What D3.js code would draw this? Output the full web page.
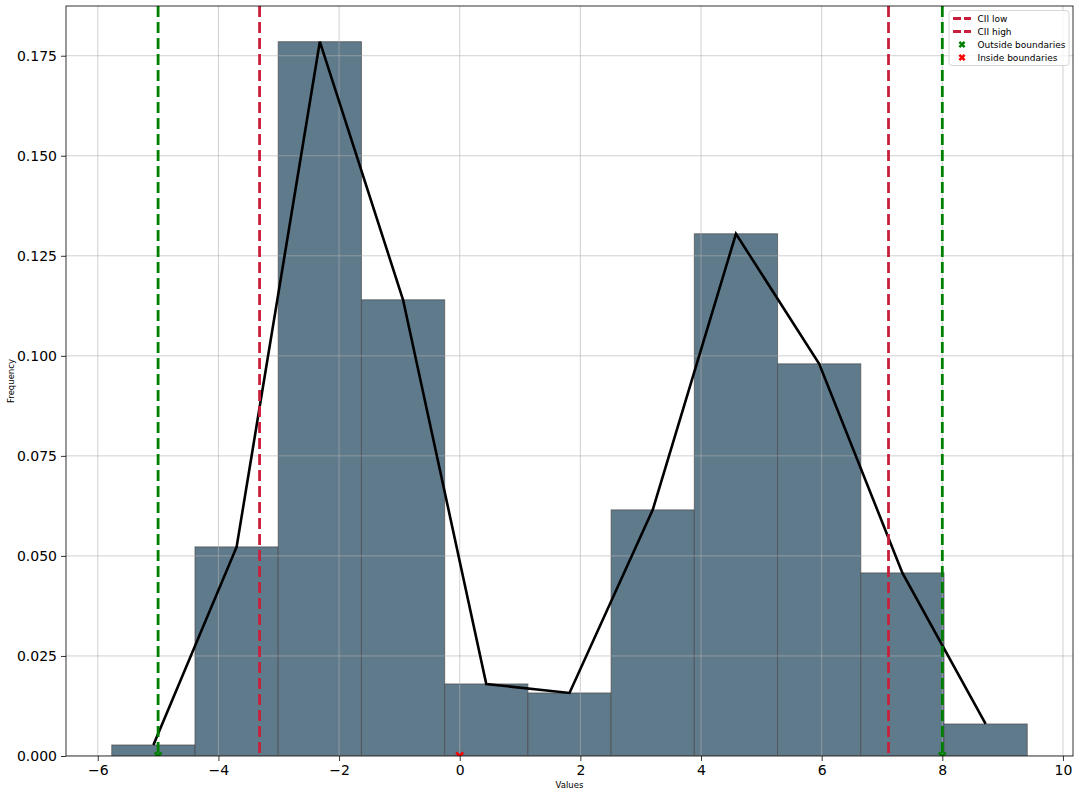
<!DOCTYPE html>
<html>
<head>
<meta charset="utf-8">
<script src="https://cdn.jsdelivr.net/npm/d3@7"></script>
<style>
  body { margin: 0; background: #fff; }
  svg { font-family: "DejaVu Sans", sans-serif; }
</style>
</head>
<body>
<div id="chart"></div>
<script>
// histogram data (density per bin)
const binStart = -5.768;
const binWidth = 1.3796;
const binHeights = [0.00275, 0.05225, 0.1785, 0.114, 0.018, 0.01575, 0.0615, 0.1305, 0.098, 0.04575, 0.008];

// vertical reference lines
const ciiLow = -3.318;
const ciiHigh = 7.108;
const outsidePoints = [-5, 8];
const insidePoints = [0];

const xTicks = [-6, -4, -2, 0, 2, 4, 6, 8, 10];
const yTicks = [0, 0.025, 0.05, 0.075, 0.1, 0.125, 0.15, 0.175];

const W = 1080, H = 796;
const mLeft = 66, mRight = 1073, mTop = 6, mBottom = 756;

// build bins from edges
const bins = binHeights.map((h, i) => ({
    x0: binStart + i * binWidth,
    x1: binStart + (i + 1) * binWidth,
    h: h
}));

const xmin = bins[0].x0, xmax = bins[bins.length - 1].x1;
const pad = (xmax - xmin) * 0.05;
const x = d3.scaleLinear([xmin - pad, xmax + pad], [mLeft, mRight]);
const y = d3.scaleLinear([0, d3.max(binHeights) * 1.05], [mBottom, mTop]);

const svg = d3.select("#chart").append("svg")
    .attr("width", W)
    .attr("height", H);

svg.append("clipPath").attr("id", "clip")
    .append("rect")
    .attr("x", mLeft).attr("y", mTop)
    .attr("width", mRight - mLeft).attr("height", mBottom - mTop);

const plot = svg.append("g").attr("clip-path", "url(#clip)");

// bars
plot.selectAll("rect.bar")
    .data(bins)
    .enter()
    .append("rect")
    .attr("class", "bar")
    .attr("x", d => x(d.x0))
    .attr("y", d => y(d.h))
    .attr("width", d => x(d.x1) - x(d.x0))
    .attr("height", d => y(0) - y(d.h))
    .style("fill", "#5f7a8b")
    .style("stroke", "#4a4a4a")
    .style("stroke-opacity", 0.7)
    .style("stroke-width", 1);

// grid lines on top of bars
plot.selectAll("line.vgrid")
    .data(xTicks)
    .enter()
    .append("line")
    .attr("x1", d => x(d)).attr("x2", d => x(d))
    .attr("y1", mTop).attr("y2", mBottom)
    .style("stroke", "#b0b0b0")
    .style("stroke-opacity", 0.75)
    .style("stroke-width", 0.8);

plot.selectAll("line.hgrid")
    .data(yTicks)
    .enter()
    .append("line")
    .attr("x1", mLeft).attr("x2", mRight)
    .attr("y1", d => y(d)).attr("y2", d => y(d))
    .style("stroke", "#b0b0b0")
    .style("stroke-opacity", 0.75)
    .style("stroke-width", 0.8);

// density line through bin centres
const line = d3.line()
    .x(d => x((d.x0 + d.x1) / 2))
    .y(d => y(d.h));

plot.append("path")
    .datum(bins)
    .attr("d", line)
    .style("fill", "none")
    .style("stroke", "#000")
    .style("stroke-width", 2.6)
    .style("stroke-linejoin", "miter");

// dashed boundary lines
const vlines = [
    { v: outsidePoints[0], c: "#008000" },
    { v: outsidePoints[1], c: "#008000" },
    { v: ciiLow, c: "#c8203c" },
    { v: ciiHigh, c: "#c8203c" }
];
plot.selectAll("line.vline")
    .data(vlines)
    .enter()
    .append("line")
    .attr("x1", d => x(d.v)).attr("x2", d => x(d.v))
    .attr("y1", mTop).attr("y2", mBottom)
    .style("stroke", d => d.c)
    .style("stroke-width", 2.8)
    .style("stroke-dasharray", "11,5");

// X markers at y = 0
function xMarker(g, cx, cy, color, s) {
    g.append("path")
        .attr("d", `M${cx - s},${cy - s}L${cx + s},${cy + s}M${cx - s},${cy + s}L${cx + s},${cy - s}`)
        .style("stroke", color)
        .style("stroke-width", 2.6);
}
outsidePoints.forEach(v => xMarker(plot, x(v), y(0), "#008000", 3.5));
insidePoints.forEach(v => xMarker(plot, x(v), y(0), "#ff0000", 3.5));

// axes
const xAxis = d3.axisBottom(x).tickValues(xTicks).tickSize(5).tickPadding(4)
    .tickFormat(d => d < 0 ? "\u2212" + Math.abs(d) : d);
const yAxis = d3.axisLeft(y).tickValues(yTicks).tickSize(5).tickPadding(4)
    .tickFormat(d3.format(".3f"));

const gx = svg.append("g")
    .attr("transform", `translate(0,${mBottom})`)
    .call(xAxis);
const gy = svg.append("g")
    .attr("transform", `translate(${mLeft},0)`)
    .call(yAxis);
[gx, gy].forEach(g => {
    g.select(".domain").remove();
    g.selectAll("text").style("font-size", "14px").style("fill", "#000")
        .style("font-family", "DejaVu Sans");
    g.selectAll("line").style("stroke", "#000").style("stroke-width", 0.8);
});

// frame
svg.append("rect")
    .attr("x", mLeft).attr("y", mTop)
    .attr("width", mRight - mLeft).attr("height", mBottom - mTop)
    .style("fill", "none")
    .style("stroke", "#000")
    .style("stroke-width", 0.8);

// axis labels
svg.append("text")
    .attr("x", (mLeft + mRight) / 2)
    .attr("y", 788)
    .attr("text-anchor", "middle")
    .style("font-size", "8.5px")
    .text("Values");

svg.append("text")
    .attr("transform", `translate(14,${(mTop + mBottom) / 2}) rotate(-90)`)
    .attr("text-anchor", "middle")
    .style("font-size", "8.5px")
    .text("Frequency");

// legend
const legend = svg.append("g");
legend.append("rect")
    .attr("x", 949).attr("y", 10.5)
    .attr("width", 120).attr("height", 55)
    .attr("rx", 3)
    .style("fill", "#fff")
    .style("fill-opacity", 0.8)
    .style("stroke", "#cccccc")
    .style("stroke-width", 0.8);

const legendItems = [
    { label: "CII low", type: "line", color: "#c8203c" },
    { label: "CII high", type: "line", color: "#c8203c" },
    { label: "Outside boundaries", type: "marker", color: "#008000" },
    { label: "Inside boundaries", type: "marker", color: "#ff0000" }
];
legendItems.forEach((d, i) => {
    const cy = 18.5 + i * 13;
    if (d.type === "line") {
        legend.append("line")
            .attr("x1", 953).attr("x2", 971)
            .attr("y1", cy).attr("y2", cy)
            .style("stroke", d.color)
            .style("stroke-width", 2.8)
            .style("stroke-dasharray", "8,3");
    } else {
        xMarker(legend, 962, cy, d.color, 2.6);
    }
    legend.append("text")
        .attr("x", 977.5)
        .attr("y", cy + 3.2)
        .style("font-size", "9px")
        .text(d.label);
});
</script>
</body>
</html>
